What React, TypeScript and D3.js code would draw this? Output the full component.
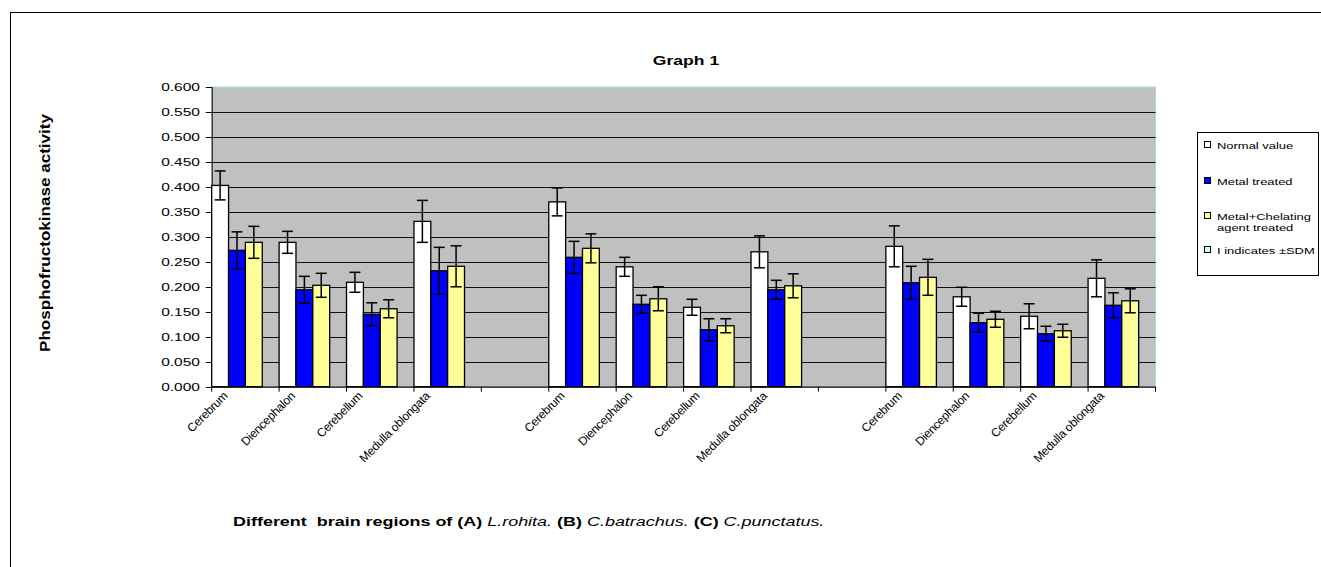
import React from "react";
import * as d3 from "d3";

const regions = ["Cerebrum", "Diencephalon", "Cerebellum", "Medulla oblongata"];
const speciesGroups = ["A", "B", "C"];
const seriesNames = ["Normal value", "Metal treated", "Metal+Chelating agent treated", "I indicates \u00B1SDM"];
const seriesColors = ["#ffffff", "#0000ff", "#ffff99", "#ccffff"];

// order: A(Cerebrum, Diencephalon, Cerebellum, Medulla), B(...), C(...)
const normalValue = [0.403, 0.289, 0.209, 0.331, 0.370, 0.240, 0.159, 0.270, 0.281, 0.180, 0.141, 0.217];
const metalTreated = [0.273, 0.194, 0.145, 0.232, 0.259, 0.165, 0.114, 0.194, 0.208, 0.128, 0.106, 0.163];
const chelatingTreated = [0.289, 0.203, 0.156, 0.241, 0.277, 0.176, 0.122, 0.202, 0.219, 0.135, 0.112, 0.172];
const normalSD = [0.029, 0.022, 0.020, 0.042, 0.028, 0.019, 0.016, 0.032, 0.041, 0.019, 0.025, 0.037];
const metalSD = [0.037, 0.027, 0.023, 0.047, 0.032, 0.018, 0.022, 0.019, 0.033, 0.019, 0.015, 0.025];
const chelatingSD = [0.032, 0.024, 0.018, 0.041, 0.029, 0.024, 0.014, 0.024, 0.036, 0.016, 0.013, 0.024];

const yTicks = [0, 0.05, 0.1, 0.15, 0.2, 0.25, 0.3, 0.35, 0.4, 0.45, 0.5, 0.55, 0.6];

const W = 1321;
const H = 567;
const plotLeft = 211.7;
const plotRight = 1155.5;
const plotTop = 87;
const plotBottom = 386.7;
const FONT = "'Liberation Sans', Arial, sans-serif";
const SX = 1.35; // horizontal stretch of text, as in the reference

type Cat = { key: string; label: string; idx: number };

export default function App() {
  const cats: Cat[] = [];
  speciesGroups.forEach((g, gi) => {
    regions.forEach((r, ri) => cats.push({ key: g + "|" + r, label: r, idx: gi * 4 + ri }));
    if (gi < speciesGroups.length - 1) cats.push({ key: "gap" + gi, label: "", idx: -1 });
  });

  const x = d3.scaleBand<string>().domain(cats.map((c) => c.key)).range([plotLeft, plotRight]).padding(0);
  const xs = d3.scaleBand<string>().domain(seriesNames).range([0, x.bandwidth()]).padding(0);
  const y = d3.scaleLinear().domain([0, 0.6]).range([plotBottom, plotTop]);

  const seriesVals = [normalValue, metalTreated, chelatingTreated];
  const seriesSD = [normalSD, metalSD, chelatingSD];

  const boundaries = cats.map((c) => x(c.key)!).concat([plotRight]);

  return (
    <svg width={W} height={H} style={{ position: "absolute", left: 0, top: 0, background: "#fff" }} fontFamily={FONT}>
      <rect x={10.5} y={12.5} width={1400} height={700} fill="#fff" stroke="#000" strokeWidth={1} />
      <text transform={`translate(686,65) scale(${SX},1)`} textAnchor="middle" fontSize={13} fontWeight="bold">Graph 1</text>

      {/* plot area */}
      <rect x={plotLeft} y={plotTop} width={plotRight - plotLeft} height={plotBottom - plotTop} fill="#c0c0c0" stroke="#a8d8d8" strokeWidth={1} />
      {yTicks.map((t) => (
        <g key={"g" + t}>
          {t > 0 && t < 0.6 && (
            <line x1={plotLeft} x2={plotRight} y1={Math.round(y(t)) + 0.5} y2={Math.round(y(t)) + 0.5} stroke="#111" strokeWidth={1} />
          )}
          <line x1={plotLeft - 6} x2={plotLeft} y1={Math.round(y(t)) + 0.5} y2={Math.round(y(t)) + 0.5} stroke="#000" />
          <text transform={`translate(200,${y(t) + 4.2}) scale(${SX},1)`} textAnchor="end" fontSize={11.5}>{t.toFixed(3)}</text>
        </g>
      ))}
      <line x1={plotLeft + 0.5} x2={plotLeft + 0.5} y1={plotTop} y2={plotBottom} stroke="#000" />

      {/* bars */}
      {cats.filter((c) => c.idx >= 0).map((c) => (
        <g key={c.key}>
          {seriesVals.map((vals, si) => {
            const bx = x(c.key)! + xs(seriesNames[si])!;
            const v = vals[c.idx];
            const sd = seriesSD[si][c.idx];
            const cx = bx + xs.bandwidth() / 2;
            return (
              <g key={si}>
                <rect x={bx} y={y(v)} width={xs.bandwidth()} height={plotBottom - y(v)} fill={seriesColors[si]} stroke="#000" strokeWidth={1.3} />
                <line x1={cx} x2={cx} y1={y(v + sd)} y2={y(v - sd)} stroke="#000" strokeWidth={1.5} />
                <line x1={cx - 5.5} x2={cx + 5.5} y1={y(v + sd)} y2={y(v + sd)} stroke="#000" strokeWidth={1.5} />
                <line x1={cx - 5.5} x2={cx + 5.5} y1={y(v - sd)} y2={y(v - sd)} stroke="#000" strokeWidth={1.5} />
              </g>
            );
          })}
        </g>
      ))}

      {/* x axis */}
      <line x1={plotLeft} x2={plotRight} y1={plotBottom + 0.5} y2={plotBottom + 0.5} stroke="#000" strokeWidth={1.2} />
      {boundaries.map((b, i) => (
        <line key={"t" + i} x1={b} x2={b} y1={plotBottom} y2={plotBottom + 5} stroke="#000" />
      ))}
      {cats.filter((c) => c.label).map((c) => {
        const cx = x(c.key)! + x.bandwidth() / 2 - 17;
        const cy = plotBottom + 10;
        return (
          <text key={"l" + c.key} transform={`translate(${cx},${cy}) rotate(-45)`} textAnchor="end" fontSize={12} letterSpacing={-0.25}>
            {c.label}
          </text>
        );
      })}

      {/* y axis title */}
      <text transform={`translate(50,233) rotate(-90)`} textAnchor="middle" fontSize={15} fontWeight="bold" textLength={238} lengthAdjust="spacingAndGlyphs">
        Phosphofructokinase activity
      </text>

      {/* x axis title */}
      <text transform={`translate(233,526) scale(1.33,1)`} fontSize={13.5} fontWeight="bold">
        <tspan>{"Different\u00A0 brain regions of (A) "}</tspan>
        <tspan fontStyle="italic" fontWeight="normal">L.rohita.</tspan>
        <tspan> (B) </tspan>
        <tspan fontStyle="italic" fontWeight="normal">C.batrachus.</tspan>
        <tspan> (C) </tspan>
        <tspan fontStyle="italic" fontWeight="normal">C.punctatus.</tspan>
      </text>

      {/* legend */}
      <rect x={1197.5} y={132.5} width={121} height={143} fill="#fff" stroke="#000" />
      {seriesNames.map((s, i) => {
        const ly = [145, 181, 216, 250][i];
        const lines = i === 2 ? ["Metal+Chelating", "agent treated"] : [s];
        return (
          <g key={"lg" + i}>
            <rect x={1204.5} y={ly - 3.5} width={6} height={6} fill={seriesColors[i]} stroke="#000" />
            {lines.map((ln, j) => (
              <text key={j} transform={`translate(1217,${ly + 3.5 + j * 11}) scale(${SX},1)`} fontSize={9.6}>{ln}</text>
            ))}
          </g>
        );
      })}
    </svg>
  );
}
